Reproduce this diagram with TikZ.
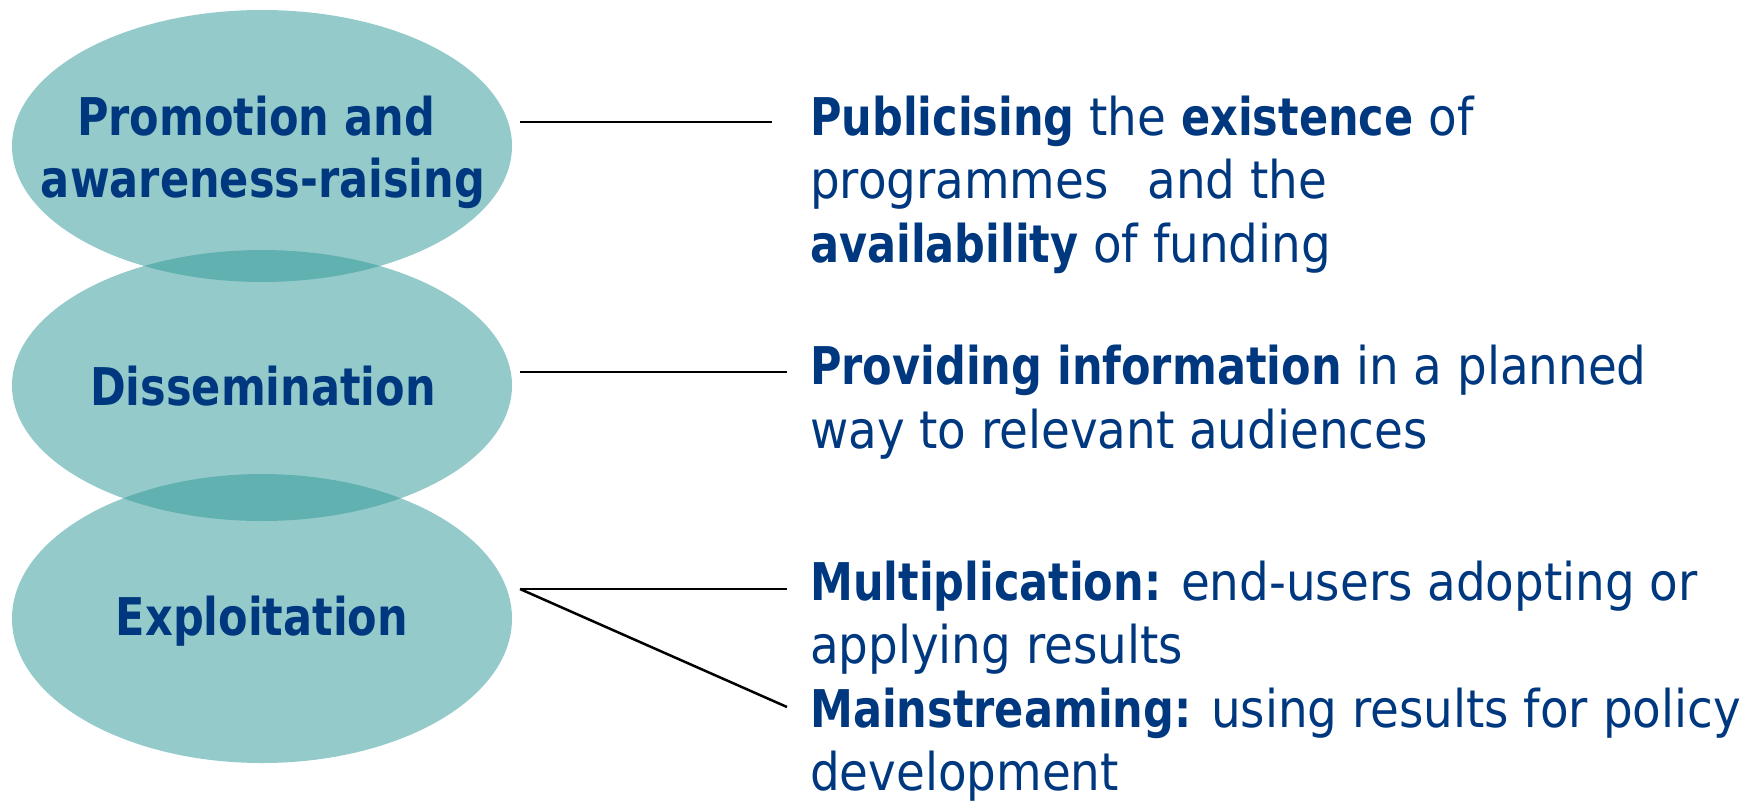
\documentclass[tikz,border=0pt]{standalone}
\usepackage{fontspec}
\setmainfont{DejaVu Sans Condensed}[BoldFeatures={FakeStretch=0.92}]
\usetikzlibrary{shapes.geometric}
\definecolor{ink}{RGB}{0,56,128}
\definecolor{lens}{RGB}{51,154,154}
\begin{document}
\begin{tikzpicture}[x=1pt,y=-1pt,
  blob/.style={ellipse, fill=lens, fill opacity=0.52, draw=none, inner sep=0pt,
               minimum width=500pt},
  tag/.style={anchor=base, text=ink, font=\fontsize{52}{60}\selectfont\bfseries, inner sep=0pt},
  txt/.style={anchor=base west, text=ink, font=\fontsize{52}{60}\selectfont, inner sep=0pt},
  link/.style={draw=black, line width=2.5pt}]
\useasboundingbox (0,0) rectangle (1744,801);

% three overlapping ellipses
\node[blob, minimum height=272pt] (promo) at (262,146) {};
\node[blob, minimum height=271pt] (diss)  at (262,385.5) {};
\node[blob, minimum height=289pt] (expl)  at (262,618.5) {};

% ellipse labels
\node[tag] (promoA) at (256,135) {Promotion and};
\node[tag] (promoB) at (263,197) {awareness-raising};
\node[tag] (dissL)  at (263,405) {Dissemination};
\node[tag] (explL)  at (262,635) {Exploitation};

% descriptions
\node[txt] (p1) at (810,135) {\textbf{Publicising} the \textbf{existence} of};
\node[txt] (p2) at (810,198) {programmes\hspace{0.75em}and the};
\node[txt] (p3) at (810,262) {\textbf{availability} of funding};

\node[txt] (d1) at (810,384) {\textbf{Providing information} in a planned};
\node[txt] (d2) at (810,448) {way to relevant audiences};

\node[txt] (m1) at (810,600) {\textbf{Multiplication:} end-users adopting or};
\node[txt] (m2) at (810,663) {applying results};
\node[txt] (s1) at (810,727) {\textbf{Mainstreaming:} using results for policy};
\node[txt] (s2) at (810,790) {development};

% connector ends
\coordinate (cPromo) at (520,122);
\coordinate (cDiss)  at (520,372);
\coordinate (cExpl)  at (520,589);
\coordinate (ePromo) at (772,122);
\coordinate (eDiss)  at (787,372);
\coordinate (eMult)  at (787,589);
\coordinate (eMain)  at (787,707);

\draw[link] (cPromo) -- (ePromo);
\draw[link] (cDiss)  -- (eDiss);
\draw[link] (cExpl)  -- (eMult);
\draw[link] (cExpl)  -- (eMain);
\end{tikzpicture}
\end{document}
